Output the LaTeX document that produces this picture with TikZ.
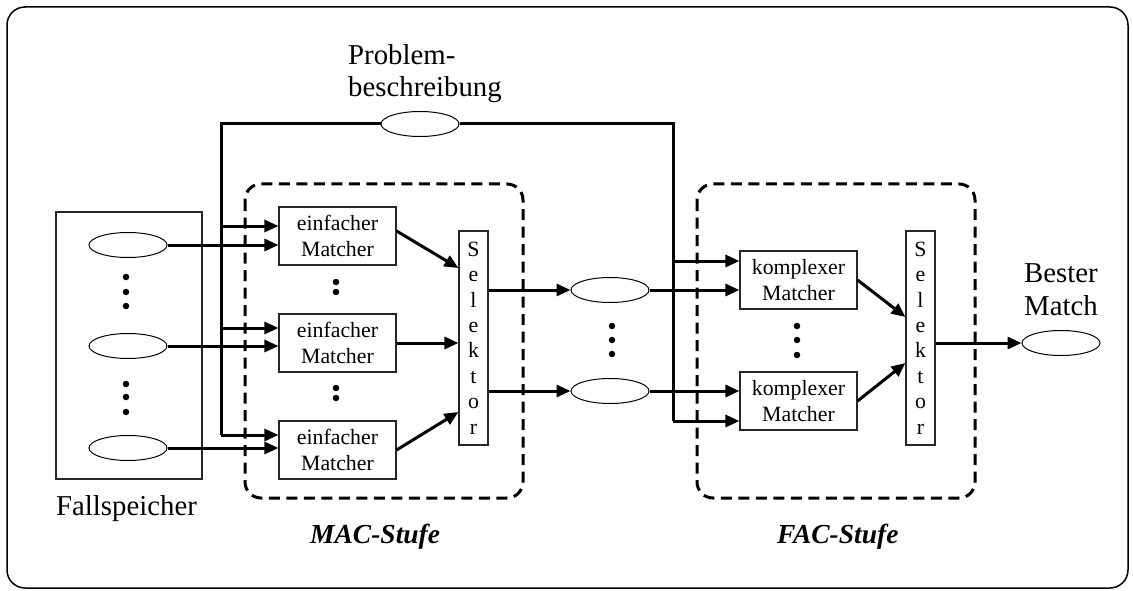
\documentclass[tikz,border=0pt]{standalone}
\usepackage{fontspec}
\setmainfont{Liberation Serif}
\usetikzlibrary{arrows.meta,shapes.geometric}

\tikzset{
  thin box/.style={draw=black!85, line width=1.1pt, inner sep=0pt},
  matcher/.style={thin box, minimum width=117pt, minimum height=58pt,
    align=center, font=\fontsize{21.8}{26}\selectfont},
  selbox/.style={thin box, minimum width=29pt, minimum height=214pt,
    align=center, font=\fontsize{21.8}{25.4}\selectfont},
  slot/.style={draw=black, ellipse, line width=1pt, minimum width=78pt,
    minimum height=25pt, inner sep=0pt},
  flow/.style={line width=3pt},
  arr/.style={flow, -{Triangle[length=14pt,width=12pt]}},
  stage/.style={draw, line width=3pt, dash pattern=on 11pt off 6.5pt,
    rounded corners=16pt},
  dotmark/.style={circle, fill=black, inner sep=0pt, minimum size=6.5pt},
  bigtext/.style={font=\fontsize{28.8}{32.5}\selectfont, inner sep=0pt},
  stagelabel/.style={font=\fontsize{27.5}{32}\selectfont\bfseries\itshape,
    inner sep=0pt},
}

\begin{document}
\begin{tikzpicture}[x=1pt, y=-1pt]
\useasboundingbox (0,0) rectangle (1133,591);

% outer frame
\draw[line width=1.5pt, rounded corners=18pt] (7,7) rectangle (1128,588);

% case memory
\node[thin box, minimum width=146pt, minimum height=267pt] (mem) at (129,345.5) {};
\node[slot] (f1) at (128,245) {};
\node[slot] (f2) at (128,346) {};
\node[slot] (f3) at (128,448) {};
\foreach \y [count=\i] in {277,292,306} \node[dotmark] (fda\i) at (126,\y) {};
\foreach \y [count=\i] in {384,397,412} \node[dotmark] (fdb\i) at (126,\y) {};
\node[bigtext, anchor=base] (memlabel) at (126.5,515) {Fallspeicher};

% MAC stage
\draw[stage] (245,184) rectangle (523,498);
\node[matcher] (m1) at (337.5,236) {einfacher\\Matcher};
\node[matcher] (m2) at (337.5,343) {einfacher\\Matcher};
\node[matcher] (m3) at (337.5,450) {einfacher\\Matcher};
\node[dotmark] (mda1) at (336,282) {};
\node[dotmark] (mda2) at (336,292) {};
\node[dotmark] (mdb1) at (336,388) {};
\node[dotmark] (mdb2) at (336,398) {};
\node[selbox] (s1) at (473.5,338) {S\\e\\l\\e\\k\\t\\o\\r};
\node[stagelabel, anchor=base west] (maclabel) at (310,543) {MAC-Stufe};

% intermediate candidates
\node[slot] (e1) at (610,290) {};
\node[slot] (e2) at (610,391) {};
\foreach \y [count=\i] in {326,340,354} \node[dotmark] (ed\i) at (612,\y) {};

% FAC stage
\draw[stage] (697,184) rectangle (975,498);
\node[matcher] (k1) at (798.5,280) {komplexer\\Matcher};
\node[matcher] (k2) at (798.5,401) {komplexer\\Matcher};
\foreach \y [count=\i] in {326,340,355} \node[dotmark] (kd\i) at (797,\y) {};
\node[selbox] (s2) at (920.5,338) {S\\e\\l\\e\\k\\t\\o\\r};
\node[stagelabel, anchor=base west] (faclabel) at (777,543) {FAC-Stufe};

% problem description (base anchor sits on the last line)
\node[slot] (pb) at (420,124) {};
\node[bigtext, align=left, anchor=base west] (pblabel) at (348,97) {Problem-\\beschreibung};
\coordinate (jl1) at (221,226);
\coordinate (jl2) at (221,328);
\coordinate (jl3) at (221,435);
\coordinate (jr1) at (673,261);
\coordinate (jr2) at (673,421);
\draw[flow] (pb.west) -| (jl3);
\draw[flow] (pb.east) -| (jr2);

% best match
\node[slot] (bm) at (1061,343) {};
\node[bigtext, align=center, anchor=base] (bmlabel) at (1061,315) {Bester\\Match};

% connectors into the simple matchers
\draw[arr] (jl1) -- (jl1 -| m1.west);
\draw[arr] (jl2) -- (jl2 -| m2.west);
\draw[arr] (jl3) -- (jl3 -| m3.west);
\draw[arr] (f1.east) -- (f1.east -| m1.west);
\draw[arr] (f2.east) -- (f2.east -| m2.west);
\draw[arr] (f3.east) -- (f3.east -| m3.west);

% simple matchers to selector
\draw[arr] ([yshift=5pt]m1.east) -- ([yshift=70pt]s1.west);
\draw[arr] (m2.east) -- (m2.east -| s1.west);
\draw[arr] (m3.east) -- ([yshift=-74pt]s1.west);

% selector to candidates
\draw[arr] (s1.east |- e1) -- (e1.west);
\draw[arr] (s1.east |- e2) -- (e2.west);

% connectors into the complex matchers
\draw[arr] (jr1) -- (jr1 -| k1.west);
\draw[arr] (jr2) -- (jr2 -| k2.west);
\draw[arr] (e1.east) -- (e1.east -| k1.west);
\draw[arr] (e2.east) -- (e2.east -| k2.west);

% complex matchers to selector
\draw[arr] (k1.east) -- ([yshift=21pt]s2.west);
\draw[arr] (k2.east) -- ([yshift=-25pt]s2.west);

% selector to best match
\draw[arr] (s2.east |- bm) -- (bm.west);
\end{tikzpicture}
\end{document}
